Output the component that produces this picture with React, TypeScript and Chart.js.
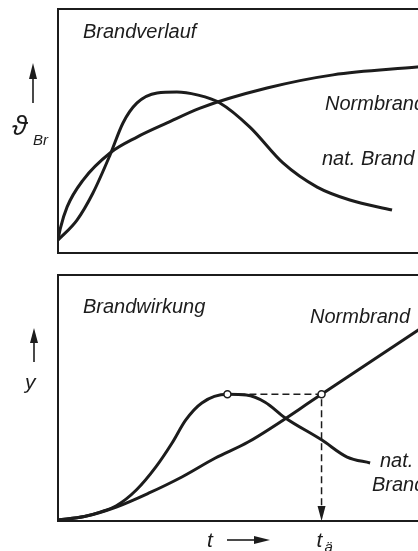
import { useEffect, useRef } from "react";
import { Chart, registerables } from "chart.js";

Chart.register(...registerables);

// ---- Data (time t in relative units 0..100, effect in relative units 0..100) ----
// Upper panel: Brandverlauf (fire temperature ϑBr over time)
const topNormTimes = [0, 0.6, 2.4, 6.6, 13.7, 20.8, 28.7, 37.4, 55, 72.4, 94.5, 100];
const topNormValues = [5.3, 10, 18.9, 29.9, 41, 47.5, 53.3, 59.4, 67.6, 73, 76.2, 77];
const topNatTimes = [0, 5, 9.2, 13.7, 17.1, 20.8, 26.1, 31.3, 36.6, 42.6, 50.5, 59.2, 68.2, 76.8, 87.9];
const topNatValues = [5.3, 13.5, 24.6, 40.2, 53.3, 61.5, 65.6, 66, 64.8, 61.5, 51.6, 36.9, 27, 21.7, 17.6];

// Lower panel: Brandwirkung (fire effect y over time)
const botNormTimes = [0, 7, 15.5, 24.2, 32.9, 41.8, 50.5, 70, 100];
const botNormValues = [0.4, 1.8, 5.7, 11.4, 17.9, 25.6, 32.1, 51.5, 82];
const botNatTimes = [0, 7, 11, 15.5, 20.8, 26, 30.3, 33.9, 38.2, 45, 50, 55, 60.3, 70, 76.8, 82.9];
const botNatValues = [0.4, 1.8, 3.5, 6.2, 12.6, 22, 31.7, 41, 48, 51.5, 51.2, 48.3, 42, 33, 26, 23.6];

// Equivalent fire duration construction
const peakTime = 45;
const peakValue = 51.5;
const equivTime = 70; // t_ä

// Texts
const topTitle = "Brandverlauf";
const botTitle = "Brandwirkung";
const normLabel = "Normbrand";
const natLabelTop = "nat. Brand";
const natLabelBot = ["nat.", "Brand"];
const topAxisSymbol = "ϑ";
const topAxisSub = "Br";
const botAxisSymbol = "y";
const timeLabel = "t";
const equivLabel = "t";
const equivSub = "ä";

const INK = "#1c1c1c";
const FAM = "'Liberation Sans', Arial, sans-serif";

const pts = (xs: number[], ys: number[]) => xs.map((x, i) => ({ x, y: ys[i] }));

function upArrow(ctx: CanvasRenderingContext2D, x: number, tip: number, base: number, end: number) {
  ctx.beginPath();
  ctx.lineWidth = 1.6;
  ctx.moveTo(x, base);
  ctx.lineTo(x, end);
  ctx.stroke();
  ctx.beginPath();
  ctx.moveTo(x, tip);
  ctx.lineTo(x - 4, base);
  ctx.lineTo(x + 4, base);
  ctx.closePath();
  ctx.fill();
}

function frame(ctx: CanvasRenderingContext2D, a: { left: number; top: number; right: number; bottom: number }) {
  ctx.beginPath();
  ctx.lineWidth = 2;
  ctx.moveTo(a.right + 10, a.top);
  ctx.lineTo(a.left, a.top);
  ctx.lineTo(a.left, a.bottom);
  ctx.lineTo(a.right + 10, a.bottom);
  ctx.stroke();
}

const topPlugin = {
  id: "topDecor",
  afterDraw(chart: any) {
    const ctx: CanvasRenderingContext2D = chart.ctx;
    const a = chart.chartArea;
    ctx.save();
    ctx.strokeStyle = INK;
    ctx.fillStyle = INK;
    frame(ctx, a);
    ctx.font = `italic 20px ${FAM}`;
    ctx.textBaseline = "alphabetic";
    ctx.fillText(topTitle, a.left + 25, a.top + 29);
    ctx.fillText(normLabel, a.left + 267, a.top + 101);
    ctx.fillText(natLabelTop, a.left + 264, a.top + 156);
    upArrow(ctx, a.left - 25, a.top + 54, a.top + 70, a.top + 94);
    ctx.font = `italic 28px ${FAM}`;
    ctx.fillText(topAxisSymbol, a.left - 46, a.top + 126);
    ctx.font = `italic 15px ${FAM}`;
    ctx.fillText(topAxisSub, a.left - 25, a.top + 136);
    ctx.restore();
  },
};

const botPlugin = {
  id: "botDecor",
  afterDraw(chart: any) {
    const ctx: CanvasRenderingContext2D = chart.ctx;
    const a = chart.chartArea;
    const xs = chart.scales.x;
    ctx.save();
    ctx.strokeStyle = INK;
    ctx.fillStyle = INK;
    frame(ctx, a);
    ctx.font = `italic 20px ${FAM}`;
    ctx.textBaseline = "alphabetic";
    ctx.fillText(botTitle, a.left + 25, a.top + 38);
    ctx.fillText(normLabel, a.left + 252, a.top + 48);
    ctx.fillText(natLabelBot[0], a.left + 322, a.top + 192);
    ctx.fillText(natLabelBot[1], a.left + 314, a.top + 216);
    upArrow(ctx, a.left - 24, a.top + 53, a.top + 68, a.top + 87);
    ctx.font = `italic 21px ${FAM}`;
    ctx.fillText(botAxisSymbol, a.left - 33, a.top + 114);
    // time axis label with arrow
    ctx.fillText(timeLabel, a.left + 149, a.bottom + 26);
    ctx.beginPath();
    ctx.lineWidth = 1.6;
    ctx.moveTo(a.left + 169, a.bottom + 19);
    ctx.lineTo(a.left + 198, a.bottom + 19);
    ctx.stroke();
    ctx.beginPath();
    ctx.moveTo(a.left + 212, a.bottom + 19);
    ctx.lineTo(a.left + 196, a.bottom + 15);
    ctx.lineTo(a.left + 196, a.bottom + 23);
    ctx.closePath();
    ctx.fill();
    // t_ä
    const xe = xs.getPixelForValue(equivTime);
    ctx.fillText(equivLabel, xe - 5, a.bottom + 26);
    ctx.font = `italic 15px ${FAM}`;
    ctx.fillText(equivSub, xe + 3, a.bottom + 31);
    // down arrowhead on dashed guide
    ctx.beginPath();
    ctx.moveTo(xe, a.bottom);
    ctx.lineTo(xe - 4, a.bottom - 15);
    ctx.lineTo(xe + 4, a.bottom - 15);
    ctx.closePath();
    ctx.fill();
    ctx.restore();
  },
};

const lineStyle = {
  borderColor: INK,
  borderWidth: 3,
  pointRadius: 0,
  cubicInterpolationMode: "monotone" as const,
  fill: false,
};

const baseOptions = (padding: any) => ({
  responsive: false,
  animation: false as const,
  devicePixelRatio: 1,
  layout: { padding },
  plugins: { legend: { display: false }, tooltip: { enabled: false } },
  events: [] as any[],
  scales: {
    x: { type: "linear" as const, min: 0, max: 100, display: false },
    y: { type: "linear" as const, min: 0, max: 100, display: false },
  },
});

export default function App() {
  const topRef = useRef<HTMLCanvasElement>(null);
  const botRef = useRef<HTMLCanvasElement>(null);

  useEffect(() => {
    const top = new Chart(topRef.current!, {
      type: "line",
      data: {
        datasets: [
          { ...lineStyle, data: pts(topNormTimes, topNormValues) },
          { ...lineStyle, data: pts(topNatTimes, topNatValues) },
        ],
      },
      options: baseOptions({ left: 58, top: 9, right: 2, bottom: 9 }) as any,
      plugins: [topPlugin],
    });
    const bot = new Chart(botRef.current!, {
      type: "line",
      data: {
        datasets: [
          {
            data: [
              { x: peakTime, y: peakValue },
              { x: equivTime, y: peakValue },
            ],
            showLine: false,
            pointRadius: 3.5,
            pointBackgroundColor: "#ffffff",
            pointBorderColor: INK,
            pointBorderWidth: 1.5,
          },
          { ...lineStyle, data: pts(botNormTimes, botNormValues) },
          { ...lineStyle, data: pts(botNatTimes, botNatValues) },
          {
            data: [
              { x: peakTime, y: peakValue },
              { x: equivTime, y: peakValue },
              { x: equivTime, y: 3 },
            ],
            borderColor: INK,
            borderWidth: 1.5,
            borderDash: [7, 4],
            pointRadius: 0,
            tension: 0,
            fill: false,
          },
        ],
      },
      options: baseOptions({ left: 58, top: 13, right: 2, bottom: 30 }) as any,
      plugins: [botPlugin],
    });
    return () => {
      top.destroy();
      bot.destroy();
    };
  }, []);

  return (
    <div
      style={{
        position: "fixed",
        left: 0,
        top: 0,
        width: 418,
        height: 551,
        overflow: "hidden",
        background: "#ffffff",
      }}
    >
      <canvas ref={topRef} width={440} height={262} style={{ position: "absolute", left: 0, top: 0 }} />
      <canvas ref={botRef} width={440} height={289} style={{ position: "absolute", left: 0, top: 262 }} />
    </div>
  );
}
